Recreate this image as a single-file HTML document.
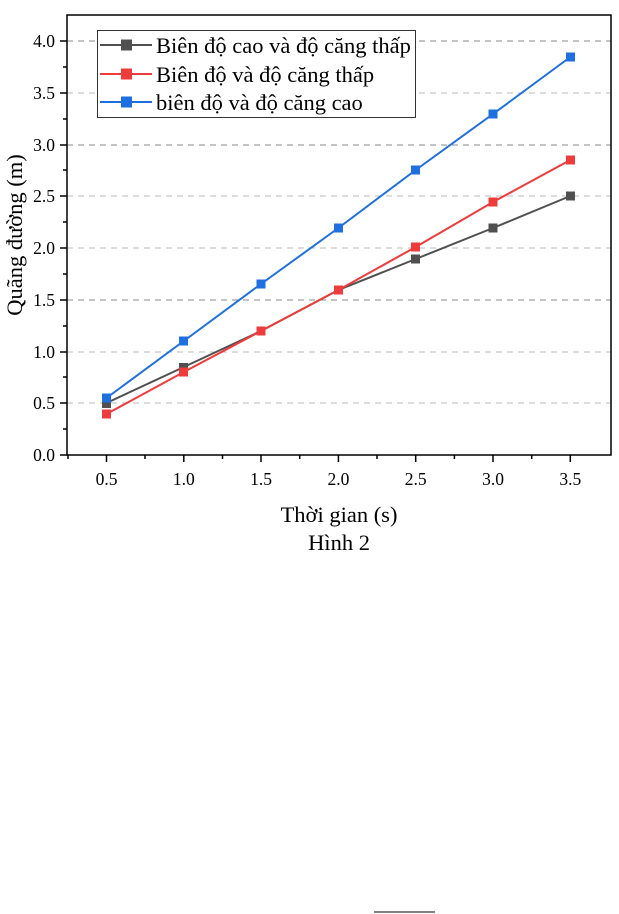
<!DOCTYPE html><html><head><style>body{margin:0;background:#fff}svg{display:block}</style></head><body>
<svg width="619" height="914" xmlns="http://www.w3.org/2000/svg" font-family="Liberation Serif, serif">
<g stroke-dasharray="6,5" stroke-width="1">
<line x1="67" x2="611" y1="41" y2="41" stroke="#888"/>
<line x1="67" x2="611" y1="93" y2="93" stroke="#bbb"/>
<line x1="67" x2="611" y1="145" y2="145" stroke="#888"/>
<line x1="67" x2="611" y1="196" y2="196" stroke="#bbb"/>
<line x1="67" x2="611" y1="248" y2="248" stroke="#bbb"/>
<line x1="67" x2="611" y1="300" y2="300" stroke="#888"/>
<line x1="67" x2="611" y1="352" y2="352" stroke="#bbb"/>
<line x1="67" x2="611" y1="403" y2="403" stroke="#bbb"/>
</g>
<rect x="67" y="15" width="544" height="440" fill="none" stroke="#000" stroke-width="1.5"/>
<g stroke="#000" stroke-width="1.5">
<line x1="60" x2="67" y1="455" y2="455"/><line x1="60" x2="67" y1="403" y2="403"/><line x1="60" x2="67" y1="352" y2="352"/><line x1="60" x2="67" y1="300" y2="300"/><line x1="60" x2="67" y1="248" y2="248"/><line x1="60" x2="67" y1="196" y2="196"/><line x1="60" x2="67" y1="145" y2="145"/><line x1="60" x2="67" y1="93" y2="93"/><line x1="60" x2="67" y1="41" y2="41"/>
<line x1="63" x2="67" y1="429" y2="429"/><line x1="63" x2="67" y1="377" y2="377"/><line x1="63" x2="67" y1="326" y2="326"/><line x1="63" x2="67" y1="274" y2="274"/><line x1="63" x2="67" y1="222" y2="222"/><line x1="63" x2="67" y1="170" y2="170"/><line x1="63" x2="67" y1="119" y2="119"/><line x1="63" x2="67" y1="67" y2="67"/>
<line y1="455" y2="462" x1="106.5" x2="106.5"/><line y1="455" y2="462" x1="183.8" x2="183.8"/><line y1="455" y2="462" x1="261" x2="261"/><line y1="455" y2="462" x1="338.4" x2="338.4"/><line y1="455" y2="462" x1="415.7" x2="415.7"/><line y1="455" y2="462" x1="493" x2="493"/><line y1="455" y2="462" x1="570.3" x2="570.3"/>
<line y1="455" y2="459" x1="68" x2="68"/><line y1="455" y2="459" x1="145" x2="145"/><line y1="455" y2="459" x1="222.5" x2="222.5"/><line y1="455" y2="459" x1="299.7" x2="299.7"/><line y1="455" y2="459" x1="377" x2="377"/><line y1="455" y2="459" x1="454.4" x2="454.4"/><line y1="455" y2="459" x1="531.7" x2="531.7"/>
</g>
<g font-size="17.5" text-anchor="end">
<text x="55" y="461">0.0</text><text x="55" y="409">0.5</text><text x="55" y="358">1.0</text><text x="55" y="306">1.5</text><text x="55" y="254">2.0</text><text x="55" y="202">2.5</text><text x="55" y="151">3.0</text><text x="55" y="99">3.5</text><text x="55" y="47">4.0</text>
</g>
<g font-size="17.5" text-anchor="middle">
<text x="106.5" y="485">0.5</text><text x="183.8" y="485">1.0</text><text x="261" y="485">1.5</text><text x="338.4" y="485">2.0</text><text x="415.7" y="485">2.5</text><text x="493" y="485">3.0</text><text x="570.3" y="485">3.5</text>
</g>
<text x="339" y="522" font-size="22.5" text-anchor="middle">Thời gian (s)</text>
<text x="339" y="550" font-size="22.5" text-anchor="middle">Hình 2</text>
<text transform="translate(22,235) rotate(-90)" font-size="22.5" text-anchor="middle">Quãng đường (m)</text>
<g fill="none" stroke-width="2">
<polyline stroke="#505050" points="106.5,403 183.8,367 261,331 338.4,290 415.7,259 493,228 570.3,196"/>
<polyline stroke="#ee3b3b" points="106.5,414 183.8,372 261,331 338.4,290 415.7,247 493,202 570.3,160"/>
<polyline stroke="#1e6fe0" points="106.5,398 183.8,341 261,284 338.4,228 415.7,170 493,114 570.3,57"/>
</g>
<g fill="#505050"><rect x="102" y="399" width="9" height="9"/><rect x="179" y="363" width="9" height="9"/><rect x="256.5" y="326.5" width="9" height="9"/><rect x="334" y="285.5" width="9" height="9"/><rect x="411" y="254.5" width="9" height="9"/><rect x="488.5" y="223.5" width="9" height="9"/><rect x="566" y="191.5" width="9" height="9"/></g>
<g fill="#ee3b3b"><rect x="102" y="409.5" width="9" height="9"/><rect x="179" y="367.5" width="9" height="9"/><rect x="256.5" y="326.5" width="9" height="9"/><rect x="334" y="285.5" width="9" height="9"/><rect x="411" y="242.5" width="9" height="9"/><rect x="488.5" y="197.5" width="9" height="9"/><rect x="566" y="155.5" width="9" height="9"/></g>
<g fill="#1e6fe0"><rect x="102" y="393.5" width="9" height="9"/><rect x="179" y="336.5" width="9" height="9"/><rect x="256.5" y="279.5" width="9" height="9"/><rect x="334" y="223.5" width="9" height="9"/><rect x="411" y="165.5" width="9" height="9"/><rect x="488.5" y="109.5" width="9" height="9"/><rect x="566" y="52.5" width="9" height="9"/></g>
<rect x="97.5" y="30.5" width="318" height="87" fill="#fff" stroke="#333" stroke-width="1"/>
<g stroke-width="2"><line x1="100" x2="152" y1="45" y2="45" stroke="#505050"/><line x1="100" x2="152" y1="74" y2="74" stroke="#ee3b3b"/><line x1="100" x2="152" y1="102" y2="102" stroke="#1e6fe0"/></g>
<rect x="121" y="39.5" width="11" height="11" fill="#505050"/><rect x="121" y="68.5" width="11" height="11" fill="#ee3b3b"/><rect x="121" y="96.5" width="11" height="11" fill="#1e6fe0"/>
<g font-size="22.5"><text x="156" y="53">Biên độ cao và độ căng thấp</text><text x="156" y="82">Biên độ và độ căng thấp</text><text x="156" y="110">biên độ và độ căng cao</text></g>
<line x1="374" x2="435" y1="912" y2="912" stroke="#000" stroke-width="1"/>
</svg></body></html>
